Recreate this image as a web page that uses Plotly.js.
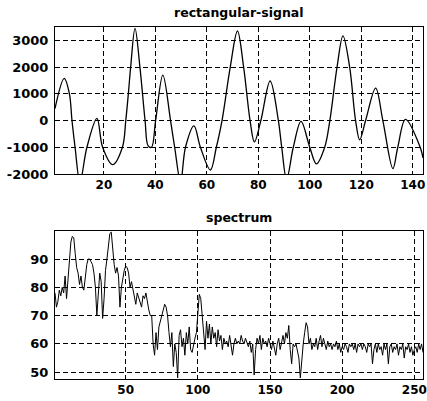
<!DOCTYPE html>
<html>
<head>
<meta charset="utf-8">
<script src="https://cdn.plot.ly/plotly-3.0.1.min.js"></script>
<style>html,body{margin:0;padding:0;background:#fff}#chart{width:427px;height:401px}</style>
</head>
<body>
<div id="chart"></div>
<script>
// ---- top panel: rectangular-signal (read points along the curve) ----
const signalX = [1, 4.6, 6.6, 7.6, 8.8, 10.7, 13.4, 17.3, 19.5, 23.4, 27.2, 28.5, 29.5, 30.4, 32.1, 34.0, 36.0, 37.2, 38.5, 40.1, 42.9, 45.9, 47.5, 49.8, 51.7, 55.0, 57.5, 61.4, 63.7, 65.9, 69.1, 71.9, 74.3, 76.8, 78.5, 81.0, 84.6, 87.8, 89.1, 91.0, 93.6, 96.6, 100.0, 102.6, 105.8, 107.8, 110.6, 112.9, 115.5, 117.8, 119.4, 121.7, 125.6, 128.4, 132.3, 134.2, 137.2, 142.9, 144];
const signalY = [450, 1580, 1000, 0, -1000, -2300, -1000, 80, -1000, -1650, -1000, 0, 1000, 2000, 3450, 2000, 0, -950, -1000, 0, 1700, 0, -1000, -2300, -1000, -200, -1000, -1850, -1000, 0, 2000, 3350, 2000, 0, -800, 0, 1480, 0, -1000, -2200, -1000, -30, -1000, -1620, -1000, 0, 2000, 3170, 2000, 0, -720, 0, 1210, 0, -1800, -1000, 40, -1000, -1400];
const signalXTicks = [20, 40, 60, 80, 100, 120, 140];
const signalYTicks = [-2000, -1000, 0, 1000, 2000, 3000];
const signalYLabels = ['-2000', '-1000', '0', '1000', '2000', '3000'];

// ---- bottom panel: spectrum, bins 1..256 ----
const spectrum = [
 78, 73, 75, 79, 77, 80, 78, 84, 76, 83,
 90, 96, 98, 97.5, 92, 87, 85, 81, 84, 80,
 79, 84, 88, 90, 90, 89, 88, 85, 80, 70,
 78, 85, 82, 69, 76, 86, 90, 95, 99, 99.5,
 93, 88, 85, 87, 84, 73, 80, 84, 86, 87.5,
 87, 85, 80, 82, 79, 77, 74, 78, 76, 75,
 73, 77, 76, 78, 74, 72, 70, 70, 60, 56,
 64, 58, 66, 68, 70, 72, 74, 73, 70, 64,
 59, 64, 52, 60, 57, 48, 63, 65, 59, 62,
 56, 64, 60, 66, 58, 57, 60, 62, 64, 72,
 77.5, 76, 70, 62, 58, 68, 62, 67, 60, 66,
 62, 64, 59, 65, 61, 63, 58, 62, 60, 61,
 59, 63, 60, 56, 60, 62, 60, 61, 60, 63,
 61, 60, 62, 60, 59, 61, 57, 60, 49, 58,
 62, 60, 63, 58, 62, 60, 61, 59, 62, 60,
 58, 61, 59, 56, 60, 62, 58, 61, 63, 60,
 64, 62, 66.5, 58, 53, 60, 59, 60, 58, 55,
 48, 56, 60, 64, 67.5, 66, 60, 62, 58, 60,
 59, 62, 58, 61, 63, 59, 62, 60, 58, 61,
 59, 60, 58, 60, 59, 61, 58, 60, 57, 59,
 58, 60, 59, 57, 60, 59, 60, 58, 60, 57,
 60, 59, 60, 58, 60, 59, 57, 60, 59, 60,
 53, 58, 60, 57, 60, 58, 59, 56, 60, 58,
 60, 53, 59, 60, 57, 59, 58, 60, 56, 59,
 58, 60, 55, 59, 58, 60, 57, 59, 56, 58,
 59, 57, 60, 58, 60, 57
];
const spectrumX = spectrum.map((_, i) => i + 1);
const spectrumXTicks = [50, 100, 150, 200, 250];
const spectrumYTicks = [50, 60, 70, 80, 90];

const yTickFont = {family: 'DejaVu Sans', size: 13, color: '#000', weight: 'bold'};
const xTickFont = {family: 'DejaVu Sans', size: 12, color: '#000', weight: 'bold'};
const titleFont = {family: 'DejaVu Sans', size: 12.5, color: '#000', weight: 'bold'};
function axis(extra) {
  return Object.assign({
    showline: true, mirror: true, linecolor: '#000', linewidth: 1,
    showgrid: true, gridcolor: '#000', gridwidth: 1, griddash: '5px,3px',
    zeroline: false, ticks: '', fixedrange: true,
    tickmode: 'array', ticklabeloverflow: 'allow'
  }, extra);
}

const data = [
  {x: signalX, y: signalY, type: 'scatter', mode: 'lines', xaxis: 'x', yaxis: 'y',
   line: {color: '#000', width: 1.3, shape: 'spline', smoothing: 1}},
  {x: spectrumX, y: spectrum, type: 'scatter', mode: 'lines', xaxis: 'x2', yaxis: 'y2',
   line: {color: '#000', width: 1}}
];

const layout = {
  width: 427, height: 401,
  margin: {l: 55, r: 4, t: 27, b: 22},
  paper_bgcolor: '#fff', plot_bgcolor: '#fff',
  showlegend: false,
  xaxis: axis({domain: [0, 1], anchor: 'y', range: [1, 144], tickvals: signalXTicks, tickfont: xTickFont}),
  yaxis: axis({domain: [0.5824, 1], anchor: 'x', range: [-2000, 3500], tickvals: signalYTicks,
               ticktext: signalYLabels, ticklabelstandoff: 3, tickfont: yTickFont}),
  xaxis2: axis({domain: [0, 1], anchor: 'y2', range: [1, 256], tickvals: spectrumXTicks, tickfont: xTickFont}),
  yaxis2: axis({domain: [0, 0.4213], anchor: 'x2', range: [47.6, 100], tickvals: spectrumYTicks,
                ticklabelstandoff: 3, tickfont: yTickFont}),
  annotations: [
    {text: 'rectangular-signal', xref: 'paper', yref: 'paper', x: 0.5, y: 1.0398,
     xanchor: 'center', yanchor: 'middle', showarrow: false, font: titleFont},
    {text: 'spectrum', xref: 'paper', yref: 'paper', x: 0.5, y: 0.4582,
     xanchor: 'center', yanchor: 'middle', showarrow: false, font: titleFont}
  ]
};

Plotly.newPlot('chart', data, layout, {staticPlot: true, displayModeBar: false});
</script>
</body>
</html>
